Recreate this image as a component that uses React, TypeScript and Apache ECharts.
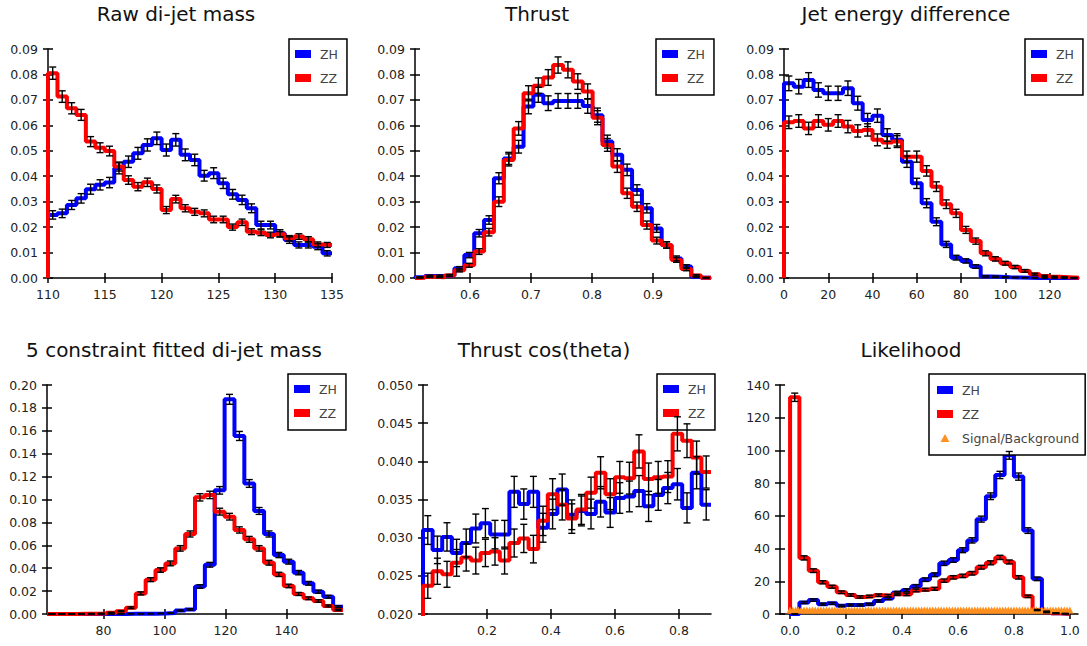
import React, { useEffect, useRef } from "react";
import * as echarts from "echarts";

// ---------------- data ----------------
// Panel 1: Raw di-jet mass
const rawMassBins = [110, 135];
const rawMassXTicks = [110, 115, 120, 125, 130, 135];
const rawMassYTicks = [0, 0.01, 0.02, 0.03, 0.04, 0.05, 0.06, 0.07, 0.08, 0.09];
const rawMassZH = [0.0248, 0.0254, 0.0287, 0.0313, 0.0349, 0.0366, 0.0375, 0.0431, 0.0457, 0.049, 0.0523, 0.0549, 0.0503, 0.0543, 0.0484, 0.0464, 0.0402, 0.0412, 0.0372, 0.0329, 0.0307, 0.0274, 0.0208, 0.0208, 0.0176, 0.0149, 0.013, 0.013, 0.0123, 0.0097];
const rawMassZZ = [0.0805, 0.0713, 0.0667, 0.0641, 0.0536, 0.0512, 0.0499, 0.0438, 0.0385, 0.0359, 0.0376, 0.035, 0.0267, 0.031, 0.0274, 0.026, 0.0254, 0.023, 0.023, 0.02, 0.0219, 0.0182, 0.0178, 0.0169, 0.0172, 0.0156, 0.0163, 0.0152, 0.0132, 0.013];
const rawMassErrK = [0.0105, 0.0085];

// Panel 2: Thrust
const thrustBins = [0.51, 0.995];
const thrustXTicks = [0.6, 0.7, 0.8, 0.9];
const thrustYTicks = [0, 0.01, 0.02, 0.03, 0.04, 0.05, 0.06, 0.07, 0.08, 0.09];
const thrustZH = [0.0003, 0.0008, 0.0008, 0.001, 0.0038, 0.009, 0.0176, 0.0228, 0.0392, 0.047, 0.0516, 0.0674, 0.072, 0.0687, 0.0696, 0.0696, 0.0696, 0.0676, 0.064, 0.0536, 0.0484, 0.0425, 0.0346, 0.0274, 0.0195, 0.013, 0.0077, 0.0045, 0.0005, 0.0001];
const thrustZZ = [0.0001, 0.0005, 0.0003, 0.001, 0.003, 0.005, 0.0104, 0.018, 0.03, 0.0464, 0.0588, 0.0726, 0.0756, 0.0788, 0.0837, 0.0818, 0.0772, 0.0733, 0.063, 0.0523, 0.0438, 0.0333, 0.028, 0.0208, 0.0147, 0.013, 0.0071, 0.0035, 0.001, 0.0001];
const thrustErrK = [0.011, 0.011];

// Panel 3: Jet energy difference
const jetEBins = [0, 133.3];
const jetEXTicks = [0, 20, 40, 60, 80, 100, 120];
const jetEYTicks = [0, 0.01, 0.02, 0.03, 0.04, 0.05, 0.06, 0.07, 0.08, 0.09];
const jetEZH = [0.0765, 0.0752, 0.0778, 0.0739, 0.0726, 0.0726, 0.0746, 0.0687, 0.0621, 0.0638, 0.0562, 0.0543, 0.0457, 0.0372, 0.0294, 0.0221, 0.0132, 0.008, 0.0067, 0.0045, 0.0006, 0.0005, 0.0003, 0.0002, 0.0001, 0, 0, 0, 0, 0];
const jetEZZ = [0.0612, 0.0617, 0.0588, 0.0617, 0.0602, 0.0617, 0.0595, 0.0578, 0.0582, 0.0543, 0.0533, 0.0536, 0.0477, 0.0477, 0.0421, 0.0359, 0.029, 0.0254, 0.0189, 0.0145, 0.0097, 0.0075, 0.0058, 0.0043, 0.0028, 0.0015, 0.0008, 0.0005, 0.0003, 0.0001];
const jetEErrK = [0.0104, 0.01];

// Panel 4: 5 constraint fitted di-jet mass
const fitMassBins = [61.5, 158.5];
const fitMassXTicks = [80, 100, 120, 140];
const fitMassYTicks = [0, 0.02, 0.04, 0.06, 0.08, 0.1, 0.12, 0.14, 0.16, 0.18, 0.2];
const fitMassZH = [0, 0, 0, 0, 0, 0, 0.0001, 0.0001, 0.0002, 0.0002, 0.0003, 0.0005, 0.0008, 0.003, 0.004, 0.024, 0.043, 0.108, 0.1875, 0.1555, 0.114, 0.09, 0.0699, 0.0515, 0.0457, 0.0361, 0.0268, 0.0195, 0.0151, 0.0064];
const fitMassZZ = [0.0001, 0.0001, 0.0001, 0.0002, 0.0003, 0.0005, 0.0012, 0.0025, 0.0055, 0.018, 0.03, 0.0384, 0.0442, 0.0573, 0.0699, 0.1019, 0.104, 0.0894, 0.085, 0.0734, 0.0652, 0.0573, 0.0448, 0.0346, 0.0245, 0.0175, 0.0137, 0.0114, 0.007, 0.0035];
const fitMassErrK = [0.01, 0.01];

// Panel 5: Thrust cos(theta)
const cosBins = [0, 0.9];
const cosXTicks = [0.2, 0.4, 0.6, 0.8];
const cosYTicks = [0.02, 0.025, 0.03, 0.035, 0.04, 0.045, 0.05];
const cosZH = [0.031, 0.0284, 0.0301, 0.028, 0.0293, 0.0312, 0.0319, 0.0304, 0.0304, 0.036, 0.0344, 0.036, 0.0313, 0.0331, 0.0363, 0.033, 0.0335, 0.0331, 0.0347, 0.0333, 0.0352, 0.0354, 0.0361, 0.0341, 0.0356, 0.0365, 0.037, 0.0339, 0.0385, 0.0343];
const cosZZ = [0.0237, 0.0256, 0.0252, 0.0267, 0.0274, 0.027, 0.028, 0.0282, 0.027, 0.0293, 0.0299, 0.0285, 0.0322, 0.0357, 0.0343, 0.0325, 0.0337, 0.0359, 0.0385, 0.0357, 0.0379, 0.0378, 0.0413, 0.0377, 0.0379, 0.038, 0.0436, 0.0427, 0.0405, 0.0386];
const cosErrK = [0.0107, 0.0107];

// Panel 6: Likelihood
const likeBins = [0, 1];
const likeAxis = [-0.036, 1.029];
const likeXTicks = [0, 0.2, 0.4, 0.6, 0.8, 1.0];
const likeYTicks = [0, 20, 40, 60, 80, 100, 120, 140];
const likeZH = [0, 7, 8.5, 6, 6.5, 5, 5.5, 5.5, 6, 8, 9.5, 13, 14.5, 17, 21, 24, 31, 33, 39, 45, 58, 72, 85, 97, 84, 51, 21.5, 1.5, 0.5, 0.2];
const likeZZ = [132.5, 34.3, 26.5, 19.4, 16.7, 13.3, 11.6, 10.4, 10.8, 11.5, 11.2, 12.1, 12, 14.4, 14.9, 15.4, 20.4, 22.4, 23.3, 24.9, 28.6, 31.3, 34.6, 31.8, 22.4, 10.8, 2.4, 1, 0.4, 0.2];
const likeErrK = [0.24, 0.22];
const likeSB = [
  2.5, 2.5, 2.5, 2.5, 2.5, 2.5, 2.5, 2.5, 2.5, 2.5,
  2.5, 2.5, 2.5, 2.5, 2.5, 2.5, 2.5, 2.5, 2.5, 2.5,
  2.5, 2.5, 2.5, 2.5, 2.5, 2.5, 2.5, 2.5, 2.5, 2.5,
  2.5, 2.5, 2.5, 2.5, 2.5, 2.5, 2.5, 2.5, 2.5, 2.5,
  2.5, 2.5, 2.5, 2.5, 2.5, 2.5, 2.5, 2.5, 2.5, 2.5,
  2.5, 2.5, 2.5, 2.5, 2.5, 2.5, 2.5, 2.5, 2.5, 2.5,
  2.5, 2.5, 2.5, 2.5, 2.5, 2.5, 2.5, 2.5, 2.5, 2.5,
  2.5, 2.5, 2.5, 2.5, 2.5, 2.5, 2.5, 2.5, 2.5, 2.5,
  2.5, 2.5, 2.5, 2.5, 2.5, 2.5, 2.5, 2.5, 2.5, 2.5,
  2.5, 2.5, 2.5, 2.5, 2.5, 2.5, 2.5, 2.5, 2.5, 2.5,
  2.5,
];

const seriesNames = ["ZH", "ZZ"];
const sbName = "Signal/Background";

// ---------------- layout & style ----------------
const FONT = "'DejaVu Sans', Verdana, sans-serif";
const BLUE = "#0000ff";
const RED = "#ff0000";
const ORANGE = "#ff8f1f";

type Panel = {
  title: string;
  titleX: number;
  titleY: number;
  grid: { left: number; top: number; width: number; height: number };
  bins: number[];
  axis: number[];
  xTicks: number[];
  xDigits: number;
  yTicks: number[];
  yDigits: number;
  zh: number[];
  zz: number[];
  errK: number[];
  legend: { left: number; top: number; padding: number[] };
  sb?: boolean;
};

const panels: Panel[] = [
  {
    title: "Raw di-jet mass", titleX: 176, titleY: 4,
    grid: { left: 48, top: 49, width: 284, height: 229 },
    bins: rawMassBins, axis: rawMassBins, xTicks: rawMassXTicks, xDigits: 0,
    yTicks: rawMassYTicks, yDigits: 2, zh: rawMassZH, zz: rawMassZZ, errK: rawMassErrK,
    legend: { left: 289, top: 39, padding: [7, 9, 9, 6] },
  },
  {
    title: "Thrust", titleX: 537, titleY: 4,
    grid: { left: 415, top: 49, width: 296, height: 229 },
    bins: thrustBins, axis: thrustBins, xTicks: thrustXTicks, xDigits: 1,
    yTicks: thrustYTicks, yDigits: 2, zh: thrustZH, zz: thrustZZ, errK: thrustErrK,
    legend: { left: 656, top: 39, padding: [7, 9, 9, 6] },
  },
  {
    title: "Jet energy difference", titleX: 906, titleY: 4,
    grid: { left: 784, top: 49, width: 295, height: 229 },
    bins: jetEBins, axis: jetEBins, xTicks: jetEXTicks, xDigits: 0,
    yTicks: jetEYTicks, yDigits: 2, zh: jetEZH, zz: jetEZZ, errK: jetEErrK,
    legend: { left: 1025, top: 39, padding: [7, 9, 9, 6] },
  },
  {
    title: "5 constraint fitted di-jet mass", titleX: 174, titleY: 340,
    grid: { left: 47, top: 385, width: 296, height: 229 },
    bins: fitMassBins, axis: fitMassBins, xTicks: fitMassXTicks, xDigits: 0,
    yTicks: fitMassYTicks, yDigits: 2, zh: fitMassZH, zz: fitMassZZ, errK: fitMassErrK,
    legend: { left: 288, top: 374, padding: [7, 9, 9, 6] },
  },
  {
    title: "Thrust cos(theta)", titleX: 544, titleY: 340,
    grid: { left: 423, top: 385, width: 288, height: 229 },
    bins: cosBins, axis: cosBins, xTicks: cosXTicks, xDigits: 1,
    yTicks: cosYTicks, yDigits: 3, zh: cosZH, zz: cosZZ, errK: cosErrK,
    legend: { left: 657, top: 374, padding: [7, 9, 9, 6] },
  },
  {
    title: "Likelihood", titleX: 911, titleY: 340,
    grid: { left: 780, top: 385, width: 298, height: 229 },
    bins: likeBins, axis: likeAxis, xTicks: likeXTicks, xDigits: 1,
    yTicks: likeYTicks, yDigits: 0, zh: likeZH, zz: likeZZ, errK: likeErrK,
    legend: { left: 929, top: 374, padding: [8, 6, 9, 8] },
    sb: true,
  },
];

function stepData(vals: number[], bins: number[]) {
  const n = vals.length;
  const w = (bins[1] - bins[0]) / n;
  const pts: number[][] = [[bins[0], 0]];
  vals.forEach((v, i) => pts.push([bins[0] + i * w, v]));
  pts.push([bins[1], vals[n - 1]]);
  return pts;
}

// Poisson-like uncertainty: error proportional to sqrt(bin content)
function errData(vals: number[], bins: number[], k: number) {
  const n = vals.length;
  const w = (bins[1] - bins[0]) / n;
  return vals.map((v, i) => [bins[0] + (i + 0.5) * w, v, k * Math.sqrt(v)]);
}

const errRender = (params: any, api: any) => {
  const x = api.value(0);
  const v = api.value(1);
  const e = api.value(2);
  const top = api.coord([x, v + e]);
  const bot = api.coord([x, v - e]);
  const hw = 3.5;
  const style = { stroke: "#000", lineWidth: 1.4 };
  return {
    type: "group",
    children: [
      { type: "line", shape: { x1: top[0], y1: top[1], x2: bot[0], y2: bot[1] }, style },
      { type: "line", shape: { x1: top[0] - hw, y1: top[1], x2: top[0] + hw, y2: top[1] }, style },
      { type: "line", shape: { x1: bot[0] - hw, y1: bot[1], x2: bot[0] + hw, y2: bot[1] }, style },
    ],
  };
};

function buildOption() {
  const title: any[] = [];
  const grid: any[] = [];
  const xAxis: any[] = [];
  const yAxis: any[] = [];
  const legend: any[] = [];
  const series: any[] = [];
  const axisColor = "#000";

  panels.forEach((p, i) => {
    title.push({
      text: p.title,
      left: p.titleX,
      top: p.titleY,
      textAlign: "center",
      padding: 0,
      textStyle: { fontFamily: FONT, fontSize: 20, fontWeight: "normal", color: "#111" },
    });
    grid.push({ ...p.grid });

    const xFmt = (v: number) => v.toFixed(p.xDigits);
    const yFmt = (v: number) => v.toFixed(p.yDigits);
    const tickLine = { color: axisColor, width: 1.5 };

    xAxis.push({
      type: "value", gridIndex: i, position: "bottom",
      min: p.axis[0], max: p.axis[1],
      axisLine: { show: true, onZero: false, lineStyle: { color: axisColor, width: 1.5 } },
      axisTick: { show: true, inside: false, length: 5, customValues: p.xTicks, lineStyle: tickLine },
      axisLabel: { show: true, customValues: p.xTicks, formatter: xFmt, margin: 10, fontFamily: FONT, fontSize: 12.5, color: "#222" },
      splitLine: { show: false },
    });
    xAxis.push({
      type: "value", gridIndex: i, position: "bottom",
      min: p.axis[0], max: p.axis[1],
      axisLine: { show: false, onZero: false },
      axisTick: { show: true, inside: true, length: 5, customValues: p.xTicks, lineStyle: tickLine },
      axisLabel: { show: false },
      splitLine: { show: false },
    });
    yAxis.push({
      type: "value", gridIndex: i, position: "left",
      min: p.yTicks[0], max: p.yTicks[p.yTicks.length - 1],
      axisLine: { show: true, onZero: false, lineStyle: { color: axisColor, width: 1.5 } },
      axisTick: { show: true, inside: false, length: 5, customValues: p.yTicks, lineStyle: tickLine },
      axisLabel: { show: true, customValues: p.yTicks, formatter: yFmt, margin: 10, fontFamily: FONT, fontSize: 12.5, color: "#222" },
      splitLine: { show: false },
    });
    yAxis.push({
      type: "value", gridIndex: i, position: "left",
      min: p.yTicks[0], max: p.yTicks[p.yTicks.length - 1],
      axisLine: { show: false, onZero: false },
      axisTick: { show: true, inside: true, length: 5, customValues: p.yTicks, lineStyle: tickLine },
      axisLabel: { show: false },
      splitLine: { show: false },
    });

    const xi = 2 * i;
    const yi = 2 * i;
    const lists = [p.zh, p.zz];
    const colors = [BLUE, RED];
    lists.forEach((vals, s) => {
      series.push({
        name: seriesNames[s],
        type: "line",
        xAxisIndex: xi, yAxisIndex: yi,
        step: "end",
        symbol: "none",
        showSymbol: false,
        silent: true,
        z: 2 + s * 0.1,
        color: colors[s],
        lineStyle: { color: colors[s], width: 4 },
        itemStyle: { color: colors[s] },
        data: stepData(vals, p.bins),
      });
    });
    lists.forEach((vals, s) => {
      series.push({
        name: seriesNames[s] + " error",
        type: "custom",
        xAxisIndex: xi, yAxisIndex: yi,
        silent: true,
        z: 6,
        renderItem: errRender,
        encode: { x: 0, y: 1 },
        data: errData(vals, p.bins, p.errK[s]),
      });
    });
    if (p.sb) {
      series.push({
        name: sbName,
        type: "scatter",
        xAxisIndex: xi, yAxisIndex: yi,
        silent: true,
        symbol: "triangle",
        symbolSize: 7,
        color: ORANGE,
        itemStyle: { color: ORANGE, opacity: 1 },
        z: 3,
        data: likeSB.map((v, j) => [j / (likeSB.length - 1), v]),
      });
    }

    const legendData: any[] = seriesNames.map((n) => ({ name: n }));
    if (p.sb) legendData.push({ name: sbName, icon: "path://M5,0L10,9L0,9Z" });
    legend.push({
      orient: "vertical",
      left: p.legend.left,
      top: p.legend.top,
      padding: p.legend.padding,
      itemWidth: 16,
      itemHeight: 8,
      itemGap: 8,
      icon: "rect",
      borderColor: "#000",
      borderWidth: 1.5,
      borderRadius: 0,
      backgroundColor: "#fff",
      selectedMode: false,
      z: 4,
      textStyle: { fontFamily: FONT, fontSize: 12.5, color: "#444", lineHeight: 16, padding: [0, 0, 0, 4] },
      data: legendData,
    });
  });

  return { animation: false, backgroundColor: "#fff", title, grid, xAxis, yAxis, legend, series };
}

export default function App() {
  const ref = useRef<HTMLDivElement>(null);
  useEffect(() => {
    if (!ref.current) return;
    const chart = echarts.init(ref.current, undefined, { renderer: "svg" });
    chart.setOption(buildOption() as any);
    return () => chart.dispose();
  }, []);
  return (
    <div
      ref={ref}
      style={{ position: "absolute", left: 0, top: 0, width: 1087, height: 646, background: "#fff" }}
    />
  );
}
